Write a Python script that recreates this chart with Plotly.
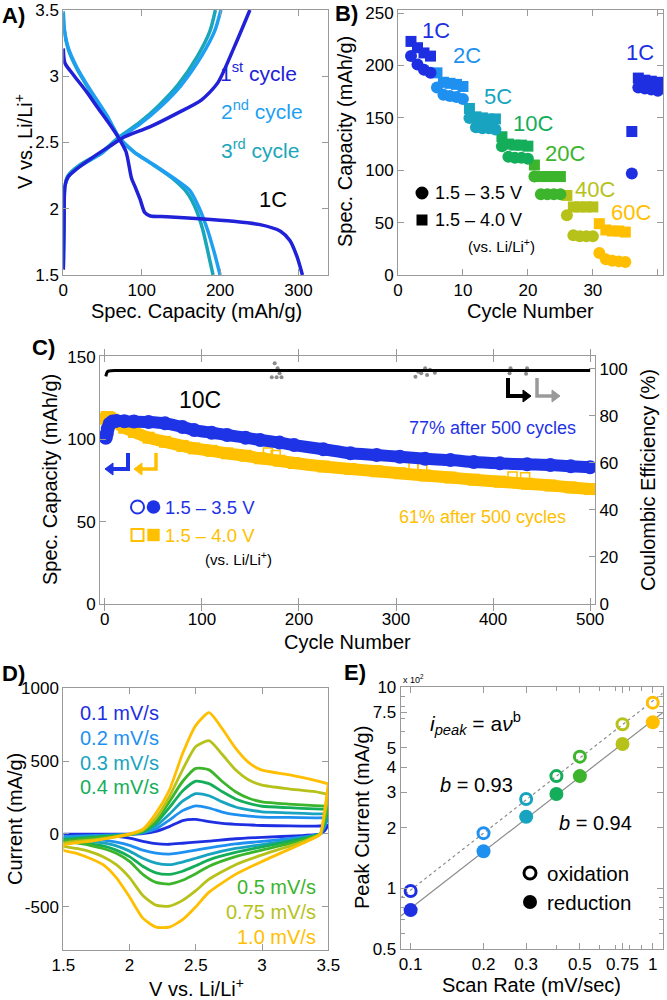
import numpy as np
import plotly.graph_objects as go

W, H = 667, 1000
FONT = "Liberation Sans, Arial, Helvetica, sans-serif"
FRAME = "#9a9a9a"

# ---------------- colours ----------------
C_1C = "#1e2fe2"
C_2C = "#1e90f0"
C_5C = "#18a4c0"
C_10C = "#14ae5a"
C_20C = "#3cb52c"
C_40C = "#b6c21a"
C_60C = "#ffbf00"
A_C1, A_C2, A_C3 = "#2121d8", "#1f9ff2", "#19a6b8"
C_BLUE, C_YEL = "#1f33e6", "#ffc000"

# ---------------- Panel A : charge / discharge (1C) ----------------
a1_ch_cap = [0, 1, 2, 6, 17, 38, 64, 77, 111, 145, 176, 197, 218, 238]
a1_ch_v = [1.54, 1.90, 2.17, 2.24, 2.30, 2.39, 2.49, 2.54, 2.62, 2.72, 2.82, 2.95, 3.22, 3.50]
a1_dis_cap = [0, 2, 13, 30, 43, 60, 70, 80, 87, 92, 98, 104, 111, 132, 174, 217, 251, 277, 289, 298, 305]
a1_dis_v = [3.21, 3.10, 3.01, 2.88, 2.77, 2.63, 2.54, 2.43, 2.23, 2.16, 2.07, 1.97, 1.945, 1.94, 1.925, 1.905, 1.88, 1.83, 1.76, 1.64, 1.50]
a2_ch_cap = [0, 1, 2, 6, 21, 47, 71, 98, 124, 150, 176, 193, 201]
a2_ch_v = [1.55, 1.95, 2.17, 2.24, 2.32, 2.41, 2.53, 2.64, 2.77, 2.93, 3.15, 3.34, 3.50]
a2_dis_cap = [0, 1, 6, 17, 34, 56, 71, 90, 116, 141, 161, 173, 184, 193, 200]
a2_dis_v = [3.49, 3.37, 3.22, 3.07, 2.90, 2.70, 2.54, 2.43, 2.33, 2.23, 2.14, 2.01, 1.84, 1.66, 1.50]
a3_ch_cap = [0, 1, 2, 6, 21, 47, 71, 97, 122, 147, 171, 187, 194]
a3_ch_v = [1.55, 1.95, 2.17, 2.25, 2.33, 2.42, 2.54, 2.65, 2.78, 2.94, 3.15, 3.34, 3.50]
a3_dis_cap = [0, 1, 6, 17, 34, 56, 71, 90, 115, 139, 158, 169, 178, 185, 191]
a3_dis_v = [3.48, 3.36, 3.21, 3.06, 2.89, 2.69, 2.54, 2.43, 2.33, 2.23, 2.12, 2.00, 1.84, 1.66, 1.50]

# ---------------- Panel B : rate capability ----------------
b_cycles = [2, 3, 4, 5, 6, 7, 8, 9, 10, 11, 12, 13, 14, 15, 16, 17, 18, 19, 20,
            21, 22, 23, 24, 25, 26, 27, 28, 29, 30, 31, 32, 33, 34, 35, 36, 37, 38, 39, 40]
b_rate = ["1C"] * 4 + ["2C"] * 5 + ["5C"] * 5 + ["10C"] * 5 + ["20C"] * 5 + ["40C"] * 5 + ["60C"] * 5 + ["1C"] * 5
b_cap_35 = [209, 201, 196, 193, 179, 172, 171, 170, 168, 150, 141, 140, 140, 139, 123, 113, 112, 112, 111,
            94, 77, 77, 77, 77, 57, 38, 37, 37, 37, 21, 15, 13.5, 13, 12.5, 97, 179, 178, 177, 176]
b_cap_40 = [223, 217, 212, 209, 193, 184, 183, 182, 180, 159, 151, 150, 149, 149, 132, 125, 124, 124, 123,
            105, 94, 94, 94, 94, 76, 65, 65, 65, 65, 49, 43, 42, 42, 41, 137, 188, 186, 185, 184]
rate_color = {"1C": C_1C, "2C": C_2C, "5C": C_5C, "10C": C_10C, "20C": C_20C, "40C": C_40C, "60C": C_60C}

# ---------------- Panel C : long cycling at 10C ----------------
c_cycles = [1, 2, 3, 5, 8, 12, 20, 30, 45, 62, 80, 92, 110, 126, 145, 160, 180, 195, 225, 253,
            280, 304, 330, 356, 380, 407, 435, 459, 480, 500]
c_cap_35 = [101, 103.5, 106.5, 109.5, 110.8, 111.2, 111, 110.8, 110.5, 109.7, 107.5, 105.6, 104, 102.6, 101,
            99.6, 98, 96.5, 94, 91.5, 90.5, 89.4, 88.2, 87.4, 86.2, 85.4, 84.8, 84.4, 83.6, 83]
c_cap_40 = [112.5, 113.5, 113.5, 113, 112, 110, 107, 104.5, 101, 98.5, 96, 94.5, 93, 91.5, 90, 88.5, 87,
            85.6, 83.5, 82, 80.6, 79.4, 78, 76.8, 75.5, 74.3, 73, 72, 70.8, 69.8]
c_open_cyc = [168, 176, 318, 327, 420, 433]
c_open_cap = [92, 90.5, 84, 83.5, 77.5, 77]
c_ce_cyc = [1, 2, 3, 4, 6, 10, 20, 50, 100, 150, 200, 250, 300, 350, 400, 450, 500]
c_ce = [96.8, 98.3, 98.9, 99.1, 99.2, 99.3, 99.3, 99.3, 99.3, 99.3, 99.3, 99.3, 99.3, 99.3, 99.3, 99.3, 99.3]
c_ce2_cyc = [172, 175, 177, 178, 180, 182, 320, 323, 326, 330, 332, 335, 340, 417, 418, 434, 435]
c_ce2 = [96.5, 102.4, 96.5, 100.3, 98.2, 96.5, 96.7, 98.8, 98.2, 100.3, 97.4, 99.6, 98.4, 98.2, 100.3, 97.9, 100.3]

# ---------------- Panel D : cyclic voltammetry ----------------
d_rates = ["0.1", "0.2", "0.3", "0.4", "0.5", "0.75", "1.0"]
d_colors = [C_1C, C_2C, C_5C, C_10C, C_20C, C_40C, C_60C]
d_v_up = [1.5, 1.75, 2.0, 2.1, 2.2, 2.3, 2.4, 2.5, 2.6, 2.7, 2.8, 2.9, 3.0, 3.2, 3.4, 3.5]
d_i_up = {
    "0.1": [-2, -2, -1, 3, 18, 50, 92, 100, 84, 72, 66, 62, 58, 55, 54, 58],
    "0.2": [-18, -10, -2, 8, 35, 95, 160, 192, 178, 150, 132, 122, 116, 113, 110, 111],
    "0.3": [-29, -15, -3, 12, 55, 135, 225, 276, 262, 220, 185, 165, 152, 145, 138, 138],
    "0.4": [-40, -20, -3, 15, 75, 180, 295, 362, 345, 290, 240, 210, 190, 180, 172, 170],
    "0.5": [-49, -25, -4, 20, 90, 220, 360, 450, 440, 360, 290, 245, 220, 205, 195, 190],
    "0.75": [-65, -38, -5, 25, 110, 255, 440, 600, 640, 545, 440, 370, 335, 310, 290, 270],
    "1.0": [-80, -44, 0, 33, 144, 300, 550, 745, 833, 722, 589, 489, 438, 407, 367, 344],
}
d_v_dn = [3.5, 3.47, 3.44, 3.4, 3.3, 3.0, 2.8, 2.6, 2.5, 2.4, 2.3, 2.2, 2.1, 2.0, 1.9, 1.8, 1.7, 1.6, 1.5]
d_i_dn = {
    "0.1": [58, 20, 0, -5, -11, -24, -33, -49, -56, -64, -71, -67, -51, -29, -16, -11, -7, -4, -2],
    "0.2": [111, 45, 0, -8, -22, -51, -69, -96, -111, -127, -138, -131, -111, -78, -56, -42, -33, -24, -18],
    "0.3": [138, 60, 0, -10, -29, -73, -100, -140, -167, -193, -211, -200, -167, -118, -82, -62, -49, -38, -29],
    "0.4": [170, 70, 0, -12, -33, -89, -127, -178, -218, -256, -278, -267, -222, -156, -111, -82, -67, -51, -40],
    "0.5": [190, 80, 0, -15, -44, -111, -156, -222, -273, -318, -344, -333, -278, -189, -133, -100, -78, -62, -49],
    "0.75": [270, 120, 0, -20, -56, -144, -211, -311, -389, -456, -496, -489, -422, -300, -211, -156, -122, -100, -82],
    "1.0": [344, 150, 0, -25, -67, -189, -278, -400, -500, -589, -640, -640, -578, -433, -300, -211, -167, -133, -111],
}

# ---------------- Panel E : peak current vs scan rate (x10^2 mA/g) ----------------
e_rate = [0.1, 0.2, 0.3, 0.4, 0.5, 0.75, 1.0]
e_ox = [0.97, 1.88, 2.78, 3.61, 4.51, 6.53, 8.36]
e_red = [0.78, 1.53, 2.27, 2.94, 3.61, 5.21, 6.68]

# =====================================================================
def dx(x0, x1):
    return [x0 / W, x1 / W]


def dy(ytop, ybot):
    return [1 - ybot / H, 1 - ytop / H]


def axstyle(**kw):
    d = dict(showline=True, linecolor=FRAME, linewidth=1, mirror="allticks", ticks="inside",
             ticklen=6, tickwidth=1, tickcolor=FRAME, showgrid=False, zeroline=False, automargin=False,
             tickfont=dict(family=FONT, size=17, color="black"), fixedrange=True)
    d.update(kw)
    return d


fig = go.Figure()


def line_tr(x, y, color, width, xa, ya, shape="spline", smoothing=0.8, dash=None):
    fig.add_trace(go.Scatter(x=x, y=y, mode="lines", xaxis=xa, yaxis=ya, hoverinfo="skip",
                             line=dict(color=color, width=width, shape=shape,
                                       smoothing=smoothing if shape == "spline" else None, dash=dash),
                             showlegend=False))


# Panel A
for cap, v, col in [(a3_ch_cap, a3_ch_v, A_C3), (a3_dis_cap, a3_dis_v, A_C3),
                    (a2_ch_cap, a2_ch_v, A_C2), (a2_dis_cap, a2_dis_v, A_C2),
                    (a1_ch_cap, a1_ch_v, A_C1), (a1_dis_cap, a1_dis_v, A_C1)]:
    line_tr(cap, v, col, 3.5, "x", "y", smoothing=0.7)

# Panel B
bcols = [rate_color[r] for r in b_rate]
fig.add_trace(go.Scatter(x=b_cycles, y=b_cap_40, mode="markers", xaxis="x2", yaxis="y2",
                         marker=dict(symbol="square", size=11, color=bcols, line=dict(width=0)),
                         showlegend=False, hoverinfo="skip"))
fig.add_trace(go.Scatter(x=b_cycles, y=b_cap_35, mode="markers", xaxis="x2", yaxis="y2",
                         marker=dict(symbol="circle", size=12, color=bcols, line=dict(width=0)),
                         showlegend=False, hoverinfo="skip"))

# Panel C
fig.add_trace(go.Scatter(x=c_cycles, y=c_cap_40, mode="lines+markers", xaxis="x3", yaxis="y3",
                         line=dict(color=C_YEL, width=12, shape="spline", smoothing=0.6),
                         marker=dict(symbol="square", size=12, color=C_YEL),
                         showlegend=False, hoverinfo="skip"))
fig.add_trace(go.Scatter(x=c_open_cyc, y=c_open_cap, mode="markers", xaxis="x3", yaxis="y3",
                         marker=dict(symbol="square-open", size=9, color=C_YEL, line=dict(width=1.5)),
                         showlegend=False, hoverinfo="skip"))
fig.add_trace(go.Scatter(x=c_cycles, y=c_cap_35, mode="lines+markers", xaxis="x3", yaxis="y3",
                         line=dict(color=C_BLUE, width=12, shape="spline", smoothing=0.6),
                         marker=dict(symbol="circle", size=14, color=C_BLUE),
                         showlegend=False, hoverinfo="skip"))
fig.add_trace(go.Scatter(x=c_ce2_cyc, y=c_ce2, mode="markers", xaxis="x3", yaxis="y4",
                         marker=dict(symbol="circle", size=4, color="#8a8a8a"),
                         showlegend=False, hoverinfo="skip"))
fig.add_trace(go.Scatter(x=c_ce_cyc, y=c_ce, mode="lines", xaxis="x3", yaxis="y4",
                         line=dict(color="black", width=3, shape="spline", smoothing=0.6),
                         showlegend=False, hoverinfo="skip"))

# Panel D
for r, col in zip(d_rates, d_colors):
    xs = d_v_up + d_v_dn + [d_v_up[0]]
    ys = d_i_up[r] + d_i_dn[r] + [d_i_up[r][0]]
    line_tr(xs, ys, col, 2.8, "x4", "y5", smoothing=0.6)

# Panel E : power-law fits from data
lx = np.log10(e_rate)
xr = np.array([10 ** -1.041, 10 ** 0.041])
for vals, dash, w in [(e_ox, "dot", 1.2), (e_red, None, 1.2)]:
    b, a = np.polyfit(lx, np.log10(vals), 1)
    fig.add_trace(go.Scatter(x=xr, y=10 ** (a + b * np.log10(xr)), mode="lines", xaxis="x5", yaxis="y6",
                             line=dict(color="#8c8c8c", width=w, dash=dash), showlegend=False,
                             hoverinfo="skip"))
fig.add_trace(go.Scatter(x=e_rate, y=e_ox, mode="markers", xaxis="x5", yaxis="y6",
                         marker=dict(symbol="circle-open", size=11, color=d_colors, line=dict(width=3)),
                         showlegend=False, hoverinfo="skip"))
fig.add_trace(go.Scatter(x=e_rate, y=e_red, mode="markers", xaxis="x5", yaxis="y6",
                         marker=dict(symbol="circle", size=14, color=d_colors),
                         showlegend=False, hoverinfo="skip"))

# =====================================================================
ann = []


def T(text, x, y, size=18, color="black", xa="left", ya="middle", angle=0, bold=False):
    if bold:
        text = "<b>" + text + "</b>"
    ann.append(dict(text=text, x=x / W, y=1 - y / H, xref="paper", yref="paper", showarrow=False,
                    xanchor=xa, yanchor=ya, textangle=angle,
                    font=dict(family=FONT, size=size, color=color)))


TITLE = 20
# A
T("A)", 0, 15, 22, bold=True)
T("1<sup>st</sup> cycle", 218, 72, 21, A_C1)
T("2<sup>nd</sup> cycle", 219, 110, 21, A_C2)
T("3<sup>rd</sup> cycle", 219, 149, 21, A_C3)
T("1C", 257, 199, 22)
T("V vs. Li/Li<sup>+</sup>", 23, 142, TITLE, xa="center", angle=-90)
T("Spec. Capacity (mAh/g)", 196, 311, TITLE, xa="center")
# B
T("B)", 333, 13, 22, bold=True)
for lab, x, y, col in [("1C", 436, 30, C_1C), ("2C", 467, 55, C_2C), ("5C", 498, 97, C_5C),
                       ("10C", 533, 123, C_10C), ("20C", 565, 153, C_20C), ("40C", 595, 190, C_40C),
                       ("60C", 631, 213, C_60C), ("1C", 640, 52, C_1C)]:
    T(lab, x, y, 22, col, xa="center")
T("1.5 – 3.5 V", 433, 193, 18)
T("1.5 – 4.0 V", 433, 220, 18)
T("(vs. Li/Li<sup>+</sup>)", 501, 245, 15, xa="center")
T("Spec. Capacity (mAh/g)", 345, 142, TITLE, xa="center", angle=-90)
T("Cycle Number", 530, 311, TITLE, xa="center")
# C
T("C)", 30, 347, 22, bold=True)
T("10C", 200, 400, 23, xa="center")
T("77% after 500 cycles", 578, 428, 18, C_BLUE, xa="right")
T("61% after 500 cycles", 568, 517, 18, C_YEL, xa="right")
T("1.5 – 3.5 V", 163, 507, 18.5, C_BLUE)
T("1.5 – 4.0 V", 163, 535, 18.5, C_YEL)
T("(vs. Li/Li<sup>+</sup>)", 238, 558, 15, xa="center")
T("Spec. Capacity (mAh/g)", 50, 480, TITLE, xa="center", angle=-90)
T("Coulombic Efficiency (%)", 648, 480, TITLE, xa="center", angle=-90)
T("Cycle Number", 347, 642, TITLE, xa="center")
# D
T("D)", 0, 673, 22, bold=True)
for lab, y, col in zip(["0.1", "0.2", "0.3", "0.4"], [713, 738, 763, 787], d_colors[:4]):
    T(lab + " mV/s", 78, y, 20, col)
for lab, y, col in zip(["0.5", "0.75", "1.0"], [887, 912, 937], d_colors[4:]):
    T(lab + " mV/s", 318, y, 20, col, xa="right")
T("Current (mA/g)", 15, 819, TITLE, xa="center", angle=-90)
T("V vs. Li/Li<sup>+</sup>", 196, 987, TITLE, xa="center")
# E
T("E)", 342, 672, 22, bold=True)
T("x 10<sup>2</sup>", 401, 679, 9)
T("<i>i</i><sub><i>peak</i></sub> = a<i>ν</i><sup>b</sup>", 428, 723, 21)
T("<i>b</i> = 0.93", 438, 785, 20)
T("<i>b</i> = 0.94", 557, 823, 20)
T("oxidation", 545, 873, 20.5)
T("reduction", 545, 902, 20.5)
T("Peak Current (mA/g)", 362, 818, TITLE, xa="center", angle=-90)
T("Scan Rate (mV/sec)", 531, 985, TITLE, xa="center")

# ---------------- shapes : legend keys and arrows ----------------
shapes = []


def P(x, y):
    return f"{x / W:.5f},{1 - y / H:.5f}"


def circ(cx, cy, r, color, filled=True, lw=2.5):
    shapes.append(dict(type="circle", xref="paper", yref="paper",
                       x0=(cx - r) / W, x1=(cx + r) / W, y0=1 - (cy + r) / H, y1=1 - (cy - r) / H,
                       fillcolor=color if filled else "rgba(0,0,0,0)",
                       line=dict(color=color, width=0 if filled else lw)))


def sq(cx, cy, h, color, filled=True, lw=1.8):
    shapes.append(dict(type="rect", xref="paper", yref="paper",
                       x0=(cx - h) / W, x1=(cx + h) / W, y0=1 - (cy + h) / H, y1=1 - (cy - h) / H,
                       fillcolor=color if filled else "rgba(0,0,0,0)",
                       line=dict(color=color, width=0 if filled else lw)))


def bent_arrow(xv, ytop, ybot, xend, tip, color, lw=4):
    shapes.append(dict(type="path", xref="paper", yref="paper",
                       path=f"M {P(xv, ytop)} L {P(xv, ybot)} L {P(xend, ybot)}",
                       line=dict(color=color, width=lw)))
    base = xend
    shapes.append(dict(type="path", xref="paper", yref="paper",
                       path=f"M {P(tip, ybot)} L {P(base, ybot - 6)} L {P(base, ybot + 6)} Z",
                       fillcolor=color, line=dict(color=color, width=1)))


# B legend
circ(422, 193, 6.5, "black")
sq(422, 220, 5.5, "black")
# C legend
circ(137.5, 507, 6.5, C_BLUE, filled=False, lw=2)
circ(153.5, 507, 6.8, C_BLUE)
sq(137.5, 535, 6, C_YEL, filled=False, lw=2)
sq(153.5, 535, 6.2, C_YEL)
# E legend
circ(530, 873, 6, "black", filled=False, lw=3)
circ(530, 902, 7, "black")
# C arrows
bent_arrow(128, 453, 469, 113, 105, C_BLUE, 4)
bent_arrow(156, 453, 469, 142, 134, C_YEL, 3.5)
bent_arrow(508, 378, 396, 523, 531, "black", 4)
bent_arrow(537, 378, 396, 552, 560, "#9a9a9a", 3.5)

# ---------------- layout ----------------
fig.update_layout(
    width=W, height=H, margin=dict(l=0, r=0, t=0, b=0, pad=0, autoexpand=False),
    paper_bgcolor="white", plot_bgcolor="white",
    showlegend=False, annotations=ann, shapes=shapes, font=dict(family=FONT, color="black"),
    xaxis=axstyle(domain=dx(63.3, 328.3), range=[0, 338], tickvals=[0, 100, 200, 300], anchor="y"),
    yaxis=axstyle(domain=dy(10, 275), range=[1.5, 3.5], tickvals=[1.5, 2, 2.5, 3, 3.5],
                  ticktext=["1.5", "2", "2.5", "3", "3.5"], anchor="x"),
    xaxis2=axstyle(domain=dx(398, 663), range=[0, 40.8], tickvals=[0, 10, 20, 30, 40], anchor="y2"),
    yaxis2=axstyle(domain=dy(10, 275), range=[0, 253], tickvals=[0, 50, 100, 150, 200, 250], anchor="x2"),
    xaxis3=axstyle(domain=dx(100, 595), range=[-5, 505], tickvals=[0, 100, 200, 300, 400, 500], anchor="y3"),
    yaxis3=axstyle(domain=dy(356, 604), range=[0, 150.6], tickvals=[0, 50, 100, 150], anchor="x3",
                   mirror=False),
    yaxis4=axstyle(range=[0, 105.5], tickvals=[0, 20, 40, 60, 80, 100], anchor="x3", overlaying="y3",
                   side="right", mirror=False),
    xaxis4=axstyle(domain=dx(63.3, 328.3), range=[1.5, 3.5], tickvals=[1.5, 2, 2.5, 3, 3.5],
                   ticktext=["1.5", "2", "2.5", "3", "3.5"], anchor="y5"),
    yaxis5=axstyle(domain=dy(688, 950), range=[-797, 1002], tickvals=[-500, 0, 500, 1000],
                   ticktext=["-500", "0", "500", "1000"], anchor="x4"),
    xaxis5=axstyle(domain=dx(400.7, 662.7), type="log", range=[-1.041, 0.041],
                   tickvals=[0.1, 0.2, 0.3, 0.5, 0.75, 1], ticktext=["0.1", "0.2", "0.3", "0.5", "0.75", "1"],
                   anchor="y6",
                   minor=dict(tickmode="array", tickvals=[0.4, 0.6, 0.7, 0.8, 0.9], ticks="inside",
                              ticklen=4, tickcolor=FRAME)),
    yaxis6=axstyle(domain=dy(687, 949), type="log", range=[np.log10(0.5), 1.0],
                   tickvals=[0.5, 1, 2, 3, 4, 5, 7.5, 10],
                   ticktext=["0.5", "1", "2", "3", "4", "5", "7.5", "10"], anchor="x5",
                   minor=dict(tickmode="array", tickvals=[0.6, 0.7, 0.8, 0.9, 6, 7, 8, 9], ticks="inside",
                              ticklen=4, tickcolor=FRAME)),
)

fig.write_html(
    "out.html",
    config={"displayModeBar": False, "staticPlot": True},
    post_script="document.body.style.margin='0';document.body.style.padding='0';"
                "document.documentElement.style.overflow='hidden';",
)
